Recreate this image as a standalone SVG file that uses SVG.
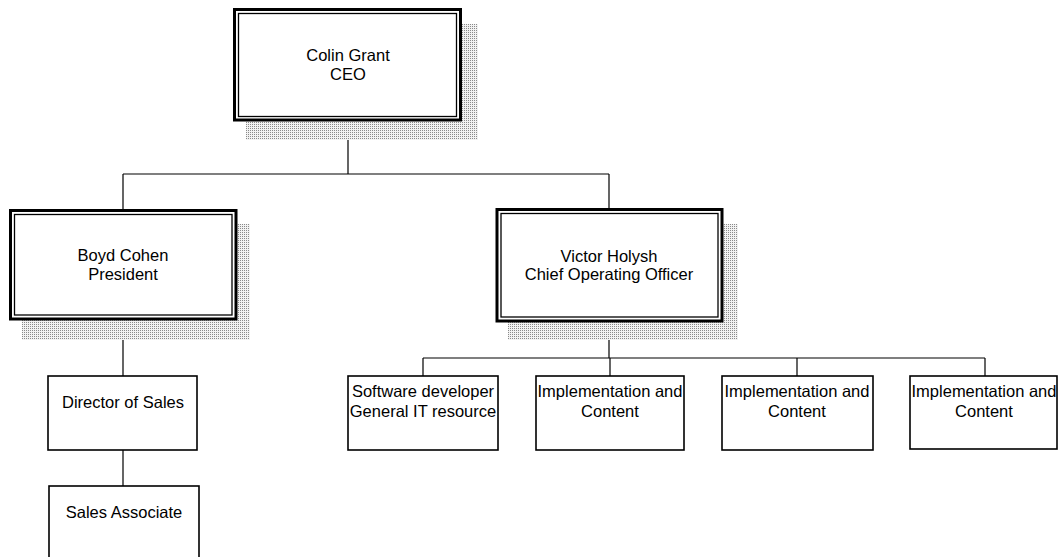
<svg xmlns="http://www.w3.org/2000/svg" width="1062" height="557" viewBox="0 0 1062 557">
<style>
.t{font-family:"Liberation Sans",Arial,sans-serif;font-size:16.5px;fill:#000;text-anchor:middle}
.box{fill:#fff;stroke:#000;stroke-width:1.6}
.outer{fill:#fff;stroke:#000;stroke-width:3}
.inner{fill:none;stroke:#000;stroke-width:1.3}
.sh{fill:url(#dots)}
.c{fill:none;stroke:#000;stroke-width:1.2}
</style>
<defs>
<pattern id="dots" width="2" height="2" patternUnits="userSpaceOnUse">
<rect width="2" height="2" fill="#f2f2f2"/>
<rect width="1" height="1" fill="#8a8a8a"/>
</pattern>
</defs>
<rect width="1062" height="557" fill="#fff"/>
<g id="connectors">
<path class="c" d="M348,120 V174 M123,174 H609 M123,174 V210 M609,174 V209"/>
<path class="c" d="M123,319 V376 M123,450 V486"/>
<path class="c" d="M609,321 V358 M423,358 H985 M423,358 V376 M610,358 V376 M797,358 V376 M985,358 V376"/>
</g>
<g id="ceo">
<rect class="sh" x="460" y="24" width="18" height="116"/>
<rect class="sh" x="246" y="120" width="232" height="20"/>
<rect class="outer" x="234.5" y="9.5" width="226" height="110.5"/>
<rect class="inner" x="238.5" y="13.5" width="218" height="103"/>
<text class="t" x="348" y="61">Colin Grant</text>
<text class="t" x="348" y="80">CEO</text>
</g>
<g id="president">
<rect class="sh" x="236" y="224" width="14" height="116"/>
<rect class="sh" x="22" y="319" width="228" height="21"/>
<rect class="outer" x="10.5" y="210.5" width="225.5" height="108.5"/>
<rect class="inner" x="14.5" y="214.5" width="217.5" height="100.5"/>
<text class="t" x="123" y="261">Boyd Cohen</text>
<text class="t" x="123" y="280">President</text>
</g>
<g id="coo">
<rect class="sh" x="722" y="224" width="16" height="116"/>
<rect class="sh" x="508" y="321" width="230" height="19"/>
<rect class="outer" x="497" y="209.5" width="225" height="111.5"/>
<rect class="inner" x="501" y="213.5" width="217" height="103.5"/>
<text class="t" x="609" y="262">Victor Holysh</text>
<text class="t" x="609" y="280">Chief Operating Officer</text>
</g>
<g id="director">
<rect class="box" x="48" y="376" width="149" height="74"/>
<text class="t" x="123" y="408">Director of Sales</text>
</g>
<g id="associate">
<rect class="box" x="49" y="486" width="150" height="80"/>
<text class="t" x="124" y="518">Sales Associate</text>
</g>
<g id="software">
<rect class="box" x="348" y="376" width="150" height="74"/>
<text class="t" x="423" y="397">Software developer</text>
<text class="t" x="423" y="417">General IT resource</text>
</g>
<g id="impl1">
<rect class="box" x="536" y="376" width="148" height="74"/>
<text class="t" x="610" y="397">Implementation and</text>
<text class="t" x="610" y="417">Content</text>
</g>
<g id="impl2">
<rect class="box" x="722" y="376" width="151" height="74"/>
<text class="t" x="797" y="397">Implementation and</text>
<text class="t" x="797" y="417">Content</text>
</g>
<g id="impl3">
<rect class="box" x="910" y="376" width="147" height="73"/>
<text class="t" x="984" y="397">Implementation and</text>
<text class="t" x="984" y="417">Content</text>
</g>
</svg>
